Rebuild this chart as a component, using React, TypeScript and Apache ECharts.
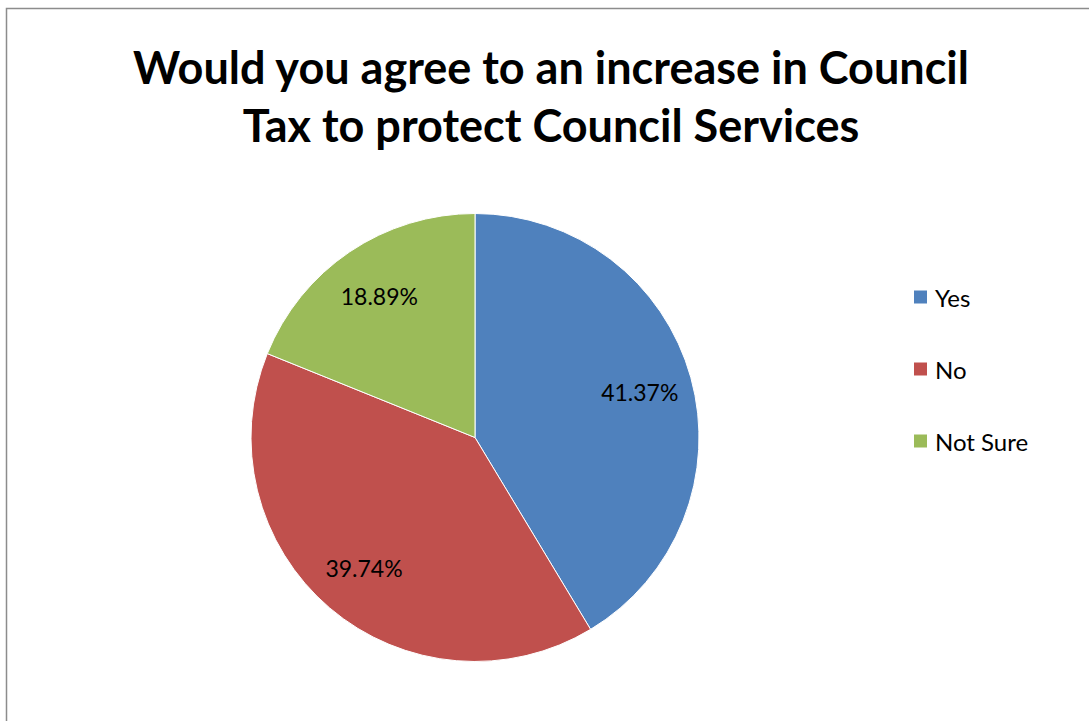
import React, { useEffect, useRef } from "react";
import * as echarts from "echarts";

const categories = ["Yes", "No", "Not Sure"];
const values = [41.37, 39.74, 18.89];
const colors = ["#4F81BD", "#C0504D", "#9BBB59"];
const titleText = "Would you agree to an increase in Council\nTax to protect Council Services";

const FONT = "Lato, 'Open Sans', sans-serif";

export default function App() {
  const ref = useRef<HTMLDivElement>(null);
  useEffect(() => {
    if (!ref.current) return;
    const chart = echarts.init(ref.current, null, { renderer: "svg" });
    const data = categories.map((c, i) => ({ name: c, value: values[i], itemStyle: { color: colors[i] } }));
    chart.setOption({
      animation: false,
      backgroundColor: "#fff",
      title: {
        text: titleText,
        left: 546,
        top: 33,
        textAlign: "center",
        textStyle: { fontFamily: FONT, fontWeight: "bold", fontSize: 45, lineHeight: 58, color: "#000" },
      },
      legend: {
        orient: "vertical",
        left: 907,
        top: 280,
        icon: "rect",
        itemWidth: 15,
        itemHeight: 15,
        itemGap: 48,
        data: categories,
        textStyle: { fontFamily: FONT, fontSize: 24, lineHeight: 24, color: "#000", padding: [0, 0, 0, 2] },
      },
      graphic: [
        {
          type: "rect",
          shape: { x: 6.5, y: 8.5, width: 1200, height: 900 },
          style: { fill: "none", stroke: "#8c8c8c", lineWidth: 1.5 },
          silent: true,
        },
      ],
      series: [
        {
          type: "pie",
          center: [475, 437.5],
          radius: [0, 224],
          startAngle: 90,
          clockwise: true,
          label: { show: false },
          labelLine: { show: false },
          itemStyle: { borderColor: "#fff", borderWidth: 1 },
          data,
          silent: true,
        },
        {
          type: "pie",
          center: [475, 437.5],
          radius: [112, 224],
          startAngle: 90,
          clockwise: true,
          legendHoverLink: false,
          silent: true,
          itemStyle: { color: "rgba(0,0,0,0)" },
          label: {
            show: true,
            position: "inside",
            formatter: (p: any) => p.value.toFixed(2) + "%",
            fontFamily: FONT,
            fontSize: 23,
            color: "#000",
          },
          labelLine: { show: false },
          data: categories.map((c, i) => ({ name: c + " ", value: values[i] })),
        },
      ],
    });
    return () => chart.dispose();
  }, []);
  return <div ref={ref} style={{ position: "fixed", left: 0, top: 0, width: 1089, height: 721 }} />;
}
